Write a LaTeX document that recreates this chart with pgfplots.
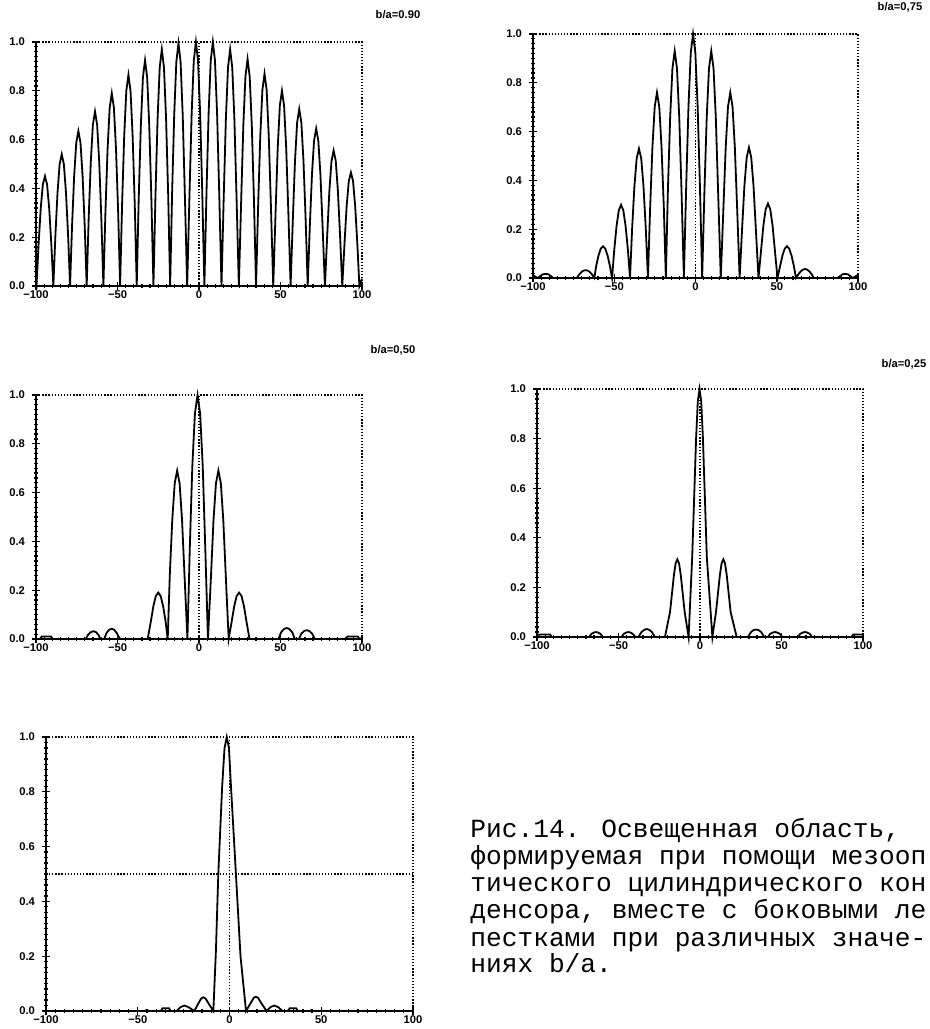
\documentclass[border=0pt]{standalone}
\usepackage{fontspec}
\setmainfont{Liberation Sans}
\newfontfamily\capfont{Liberation Mono}
\usepackage{pgfplots}
\pgfplotsset{compat=1.18}

\newcommand\tickfont{\fontsize{5.6}{6}\selectfont\bfseries}

\tikzset{dotline/.style={black, line width=0.65pt, dash pattern=on 0.65pt off 0.9pt}}

\pgfplotsset{
  panel/.style={
    scale only axis,
    anchor=south west,
    xmin=-100, xmax=100, ymin=0, ymax=1,
    axis x line*=bottom, axis y line*=left,
    axis line style={line width=0.8pt, black},
    xtick={-100,-50,0,50,100},
    xticklabels={−100,−50,0,50,100},
    minor x tick num=9,
    ytick={0,0.2,0.4,0.6,0.8,1.0},
    yticklabels={0.0,0.2,0.4,0.6,0.8,1.0},
    minor y tick num=9,
    tick align=center,
    major tick length=4pt, minor tick length=2pt,
    tick style={line width=0.6pt, black},
    tick label style={font=\tickfont},
    xticklabel style={yshift=3pt},
    clip=false,
  },
  curve/.style={black, line width=0.9pt, mark=none},
}

\begin{document}
\begin{tikzpicture}
\useasboundingbox (0,0) rectangle (465pt,514.5pt);

% b/a = 0.90
\begin{axis}[panel, at={(18pt,371.5pt)}, width=163pt, height=122pt]
\addplot[curve] coordinates {
(-100,0.01)(-99.7,0)
(-98.4,0.172)(-97.1,0.318)(-95.8,0.416)(-94.5,0.45)(-93.2,0.416)(-91.9,0.318)(-90.6,0.172)(-89.35,0)
(-88.1,0.207)(-86.8,0.382)(-85.5,0.499)(-84.2,0.54)(-82.9,0.499)(-81.6,0.382)(-80.3,0.207)(-79.1,0)
(-77.9,0.243)(-76.6,0.449)(-75.3,0.587)(-74.0,0.635)(-72.7,0.587)(-71.4,0.449)(-70.1,0.243)(-68.9,0)
(-67.7,0.274)(-66.4,0.506)(-65.1,0.661)(-63.8,0.715)(-62.5,0.661)(-61.2,0.506)(-59.9,0.274)(-58.65,0)
(-57.4,0.303)(-56.1,0.559)(-54.8,0.730)(-53.5,0.79)(-52.2,0.730)(-50.9,0.559)(-49.6,0.303)(-48.4,0)
(-47.2,0.331)(-45.9,0.612)(-44.6,0.799)(-43.3,0.865)(-42.0,0.799)(-40.7,0.612)(-39.4,0.331)(-38.2,0)
(-37.0,0.354)(-35.7,0.654)(-34.4,0.855)(-33.1,0.925)(-31.8,0.855)(-30.5,0.654)(-29.2,0.354)(-27.95,0)
(-26.7,0.372)(-25.4,0.686)(-24.1,0.896)(-22.8,0.97)(-21.5,0.896)(-20.2,0.686)(-18.9,0.372)(-17.7,0)
(-16.5,0.381)(-15.2,0.703)(-13.9,0.919)(-12.6,0.995)(-11.3,0.919)(-10.0,0.703)(-8.7,0.381)(-7.25,0)
(-5.8,0.383)(-4.5,0.707)(-3.2,0.924)(-1.9,1.0)(-0.6,0.924)(0.7,0.707)(2.0,0.383)(3.3,0)
(4.6,0.383)(5.9,0.707)(7.2,0.924)(8.5,1.0)(9.8,0.924)(11.1,0.707)(12.4,0.383)(13.8,0)
(15.2,0.372)(16.5,0.686)(17.8,0.896)(19.1,0.97)(20.4,0.896)(21.7,0.686)(23.0,0.372)(24.45,0)
(25.9,0.356)(27.2,0.658)(28.5,0.859)(29.8,0.93)(31.1,0.859)(32.4,0.658)(33.7,0.356)(35.0,0)
(36.3,0.333)(37.6,0.615)(38.9,0.804)(40.2,0.87)(41.5,0.804)(42.8,0.615)(44.1,0.333)(45.55,0)
(47.0,0.306)(48.3,0.566)(49.6,0.739)(50.9,0.80)(52.2,0.739)(53.5,0.566)(54.8,0.306)(56.2,0)
(57.6,0.278)(58.9,0.513)(60.2,0.670)(61.5,0.725)(62.8,0.670)(64.1,0.513)(65.4,0.278)(66.7,0)
(68.0,0.247)(69.3,0.456)(70.6,0.596)(71.9,0.645)(73.2,0.596)(74.5,0.456)(75.8,0.247)(77.25,0)
(78.7,0.213)(80.0,0.392)(81.3,0.513)(82.6,0.555)(83.9,0.513)(85.2,0.392)(86.5,0.213)(87.9,0)
(89.3,0.178)(90.6,0.329)(91.9,0.430)(93.2,0.465)(94.5,0.430)(95.8,0.329)(97.1,0.178)(98.4,0)
(100,0.03)
};
\draw[dotline] (rel axis cs:0,1) -- (rel axis cs:1,1) -- (rel axis cs:1,0);
\draw[dotline] (axis cs:0,0) -- (axis cs:0,1);
\end{axis}

% b/a = 0.75
\begin{axis}[panel, at={(266.5pt,375.5pt)}, width=162.5pt, height=122pt]
\addplot[curve] coordinates {
(-100,0.012)(-98.5,0.005)(-97,0)(-95.5,0.008)(-94,0.015)(-92.2,0.017)(-90.5,0.015)(-89,0.008)(-87.5,0)
(-73.0,0)
(-71.8,0.012)(-70.4,0.023)(-69.0,0.030)(-67.6,0.032)(-66.2,0.030)(-64.8,0.023)(-63.4,0.012)(-62.25,0)
(-61.1,0.050)(-59.7,0.092)(-58.3,0.120)(-56.9,0.13)(-55.5,0.120)(-54.1,0.092)(-52.7,0.050)(-51.35,0)
(-50.0,0.115)(-48.6,0.212)(-47.2,0.277)(-45.8,0.30)(-44.4,0.277)(-43.0,0.212)(-41.6,0.115)(-40.3,0)
(-39.0,0.203)(-37.6,0.375)(-36.2,0.490)(-34.8,0.53)(-33.4,0.490)(-32.0,0.375)(-30.6,0.203)(-29.25,0)
(-27.9,0.291)(-26.5,0.537)(-25.1,0.702)(-23.7,0.76)(-22.3,0.702)(-20.9,0.537)(-19.5,0.291)(-18.25,0)
(-17.0,0.356)(-15.6,0.658)(-14.2,0.859)(-12.8,0.93)(-11.4,0.859)(-10.0,0.658)(-8.6,0.356)(-7.15,0)
(-5.7,0.383)(-4.3,0.707)(-2.9,0.924)(-1.5,1.0)(-0.1,0.924)(1.3,0.707)(2.7,0.383)(4.1,0)
(5.5,0.356)(6.9,0.658)(8.3,0.859)(9.7,0.93)(11.1,0.859)(12.5,0.658)(13.9,0.356)(15.55,0)
(17.2,0.291)(18.6,0.537)(20.0,0.702)(21.4,0.76)(22.8,0.702)(24.2,0.537)(25.6,0.291)(27.15,0)
(28.7,0.205)(30.1,0.378)(31.5,0.494)(32.9,0.535)(34.3,0.494)(35.7,0.378)(37.1,0.205)(38.75,0)
(40.4,0.117)(41.8,0.216)(43.2,0.282)(44.6,0.305)(46.0,0.282)(47.4,0.216)(48.8,0.117)(50.45,0)
(52.1,0.050)(53.5,0.092)(54.9,0.120)(56.3,0.13)(57.7,0.120)(59.1,0.092)(60.5,0.050)(61.85,0)
(63.2,0.014)(64.6,0.026)(66.0,0.034)(67.4,0.037)(68.8,0.034)(70.2,0.026)(71.6,0.014)(72.8,0)
(87.5,0)(89,0.008)(90.5,0.015)(92,0.017)(93.7,0.015)(95.2,0.008)(96.7,0)(98.3,0.006)(100,0.013)
};
\draw[dotline] (rel axis cs:0,1) -- (rel axis cs:1,1) -- (rel axis cs:1,0);
\draw[dotline] (axis cs:0,0) -- (axis cs:0,1);
\end{axis}

% b/a = 0.50
\begin{axis}[panel, at={(18pt,195pt)}, width=163pt, height=122pt]
\addplot[curve] coordinates {
(-100,0)(-97.5,0)(-96.5,0.01)(-90.8,0.01)(-89.8,0)
(-69.5,0)(-68.0,0.018)(-66.4,0.028)(-64.8,0.032)(-63.2,0.028)(-61.8,0.018)(-60.5,0)
(-58.2,0)(-56.7,0.025)(-55.1,0.038)(-53.6,0.042)(-52.1,0.038)(-50.5,0.025)(-48.5,0)
(-31.5,0)
(-29.5,0.073)(-28.0,0.134)(-26.5,0.176)(-25.0,0.19)(-23.5,0.176)(-22.0,0.134)(-20.5,0.073)(-19.2,0)
(-17.9,0.264)(-16.4,0.488)(-14.9,0.638)(-13.4,0.69)(-11.9,0.638)(-10.4,0.488)(-8.9,0.264)(-7.1,0)
(-5.6,0.383)(-4.1,0.707)(-2.5,0.924)(-0.9,1.0)(0.7,0.924)(2.3,0.707)(3.8,0.383)(5.5,0)
(7.4,0.264)(8.9,0.488)(10.4,0.638)(11.9,0.69)(13.4,0.638)(14.9,0.488)(16.4,0.264)(18.2,0)
(20.1,0.073)(21.6,0.134)(23.1,0.176)(24.6,0.19)(26.1,0.176)(27.6,0.134)(29.1,0.073)(31.0,0)
(48.8,0)(50.4,0.028)(52.2,0.041)(53.8,0.045)(55.4,0.041)(57.2,0.028)(58.8,0)
(61.3,0)(62.8,0.022)(64.5,0.033)(66.1,0.036)(67.7,0.033)(69.4,0.022)(71,0)
(90,0)(91,0.01)(97.5,0.01)(98.5,0)(100,0.005)
};
\draw[dotline] (rel axis cs:0,1) -- (rel axis cs:1,1) -- (rel axis cs:1,0);
\draw[dotline] (axis cs:0,0) -- (axis cs:0,1);
\end{axis}

% b/a = 0.25
\begin{axis}[panel, at={(268.5pt,196pt)}, width=163pt, height=124pt]
\addplot[curve] coordinates {
(-100,0.008)(-97.5,0.01)(-92,0.01)(-91,0)
(-68,0)(-66.5,0.013)(-65.1,0.018)(-63.8,0.02)(-62.5,0.018)(-61.1,0.013)(-59.6,0)
(-48.2,0)(-46.7,0.013)(-45.3,0.018)(-44,0.02)(-42.7,0.018)(-41.3,0.013)(-39.6,0)
(-37.8,0)(-35.9,0.02)(-34.2,0.029)(-32.7,0.032)(-31.2,0.029)(-29.5,0.02)(-27.6,0)
(-21.5,0)
(-18.4,0.1)(-16.0,0.25)(-14.95,0.297)(-13.9,0.313)(-12.85,0.297)(-11.8,0.25)(-9.4,0.1)(-7.0,0)
(-4.8,0.32)(-2.4,0.8)(-1.35,0.95)(-0.3,1.0)(0.75,0.95)(1.8,0.8)(4.2,0.32)(7.6,0)
(9.8,0.1)(12.2,0.25)(13.25,0.297)(14.3,0.313)(15.35,0.297)(16.4,0.25)(18.8,0.1)(22.5,0)
(29.4,0)(31.3,0.02)(32.9,0.028)(34.4,0.03)(35.9,0.028)(37.5,0.02)(39.4,0)
(41.6,0)(43.1,0.013)(44.6,0.018)(46,0.02)(47.4,0.018)(48.9,0.013)(50.4,0)
(60,0)(61.5,0.013)(63,0.018)(64.4,0.02)(65.8,0.018)(67.3,0.013)(68.8,0)
(93,0)(94,0.01)(99,0.01)(100,0.01)
};
\draw[dotline] (rel axis cs:0,1) -- (rel axis cs:1,1) -- (rel axis cs:1,0);
\draw[dotline] (axis cs:0,0) -- (axis cs:0,1);
\end{axis}

% bottom panel
\begin{axis}[panel, at={(23pt,9pt)}, width=183.5pt, height=137pt]
\addplot[curve] coordinates {
(-100,0)(-46.2,0)(-45.1,0.004)(-44,0)
(-37.5,0)(-36.5,0.01)(-33,0.01)(-32,0)
(-28.8,0)(-26.7,0.014)(-24.6,0.02)(-22.3,0.014)(-19.2,0)
(-16.6,0.032)(-15.4,0.046)(-14.3,0.05)(-13.1,0.046)(-11.8,0.032)(-8.8,0)
(-7.4,0.22)(-6.1,0.5)(-4.0,0.82)(-2.7,0.96)(-1.5,1.0)(-0.3,0.96)(0.8,0.82)(3.5,0.5)(6.0,0.2)(9.0,0)
(11.8,0.032)(13.2,0.048)(14.4,0.052)(15.6,0.048)(17,0.032)(20.2,0)
(22.3,0.014)(24.4,0.02)(26.6,0.014)(28.8,0)
(31.8,0)(32.8,0.01)(36.3,0.01)(37.3,0)
(43.8,0)(44.8,0.004)(45.8,0)
(100,0)
};
\draw[dotline] (rel axis cs:0,1) -- (rel axis cs:1,1) -- (rel axis cs:1,0);
\draw[dotline] (axis cs:0,0) -- (axis cs:0,1);
\draw[dotline] (axis cs:-100,0.5) -- (axis cs:100,0.5);
\end{axis}

% panel labels
\node[font=\tickfont] at (199pt,507pt) {b/a=0.90};
\node[font=\tickfont] at (450pt,511pt) {b/a=0,75};
\node[font=\tickfont] at (196.5pt,339.5pt) {b/a=0,50};
\node[font=\tickfont] at (452pt,332.5pt) {b/a=0,25};

% caption
\begin{scope}[every node/.style={anchor=base west, inner sep=0pt, font=\capfont\fontsize{13.1}{14}\selectfont}]
\node at (235pt,95.5pt) {Рис.14. Освещенная область,};
\node at (235pt,82pt) {формируемая при помощи мезооп};
\node at (235pt,68.5pt) {тического цилиндрического кон};
\node at (235pt,55pt) {денсора, вместе с боковыми ле};
\node at (235pt,41.5pt) {пестками при различных значе-};
\node at (235pt,28pt) {ниях b/a.};
\end{scope}
\end{tikzpicture}
\end{document}
